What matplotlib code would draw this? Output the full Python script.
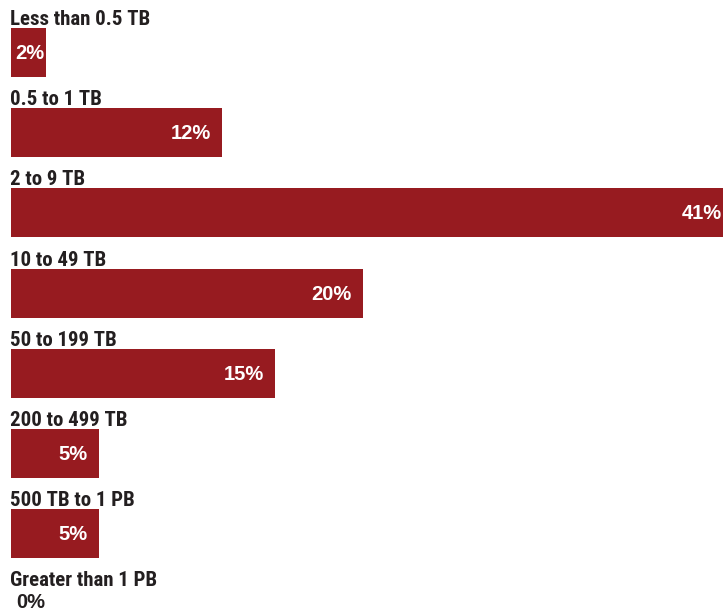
import matplotlib
matplotlib.use("Agg")
import matplotlib.pyplot as plt
from matplotlib import font_manager

categories = [
    "Less than 0.5 TB",
    "0.5 to 1 TB",
    "2 to 9 TB",
    "10 to 49 TB",
    "50 to 199 TB",
    "200 to 499 TB",
    "500 TB to 1 PB",
    "Greater than 1 PB",
]
shares = [2, 12, 41, 20, 15, 5, 5, 0]

BAR_COLOR = "#971b20"
TEXT_COLOR = "#231f20"

W, H = 723, 614
PX_PER_PCT = 17.6
LEFT_PX = 11
ROW_PITCH = 80.2
FIRST_BASELINE = 25
BAR_H = 49


def pick_condensed():
    """Find a narrow bold face for the category captions."""
    entries = font_manager.fontManager.ttflist
    names = {f.name for f in entries}
    for fam in ("Liberation Sans Narrow", "Roboto Condensed", "Open Sans Condensed"):
        if fam in names:
            return dict(family=[fam, "DejaVu Sans"], stretch="normal", size=15)
    for f in entries:
        if f.name == "DejaVu Sans" and str(f.stretch) in ("condensed", "semi-condensed"):
            return dict(family=["DejaVu Sans"], stretch="condensed", size=14)
    return dict(family=["Roboto", "DejaVu Sans"], stretch="normal", size=14)


fig = plt.figure(figsize=(W / 100, H / 100), dpi=100)
ax = fig.add_axes([0, 0, 1, 1])
ax.set_xlim(-LEFT_PX / PX_PER_PCT, (W - LEFT_PX) / PX_PER_PCT)
ax.set_ylim(H, 0)
ax.axis("off")

cat_font = dict(weight="bold", color=TEXT_COLOR, **pick_condensed())
val_font = dict(family=["Liberation Sans", "DejaVu Sans"],
                weight="bold", size=14.5)

px = 1 / PX_PER_PCT  # one pixel in data units along x

for i, (cat, val) in enumerate(zip(categories, shares)):
    baseline = FIRST_BASELINE + ROW_PITCH * i
    bar_top = baseline + 3
    yc = bar_top + BAR_H / 2

    ax.text(-1 * px, baseline, cat, ha="left", va="baseline", **cat_font)
    ax.barh(yc, val, height=BAR_H, left=0, color=BAR_COLOR)

    label = f"{val}%"
    if val == 0:
        ax.text(5 * px, baseline + 16, label, ha="left", va="center",
                color=TEXT_COLOR, **val_font)
    elif val < 3:
        ax.text(4 * px, yc + 1, label, ha="left", va="center",
                color="white", **val_font)
    else:
        ax.text(val - 11 * px, yc + 1, label, ha="right", va="center",
                color="white", **val_font)

fig.savefig("out.png", dpi=100)
